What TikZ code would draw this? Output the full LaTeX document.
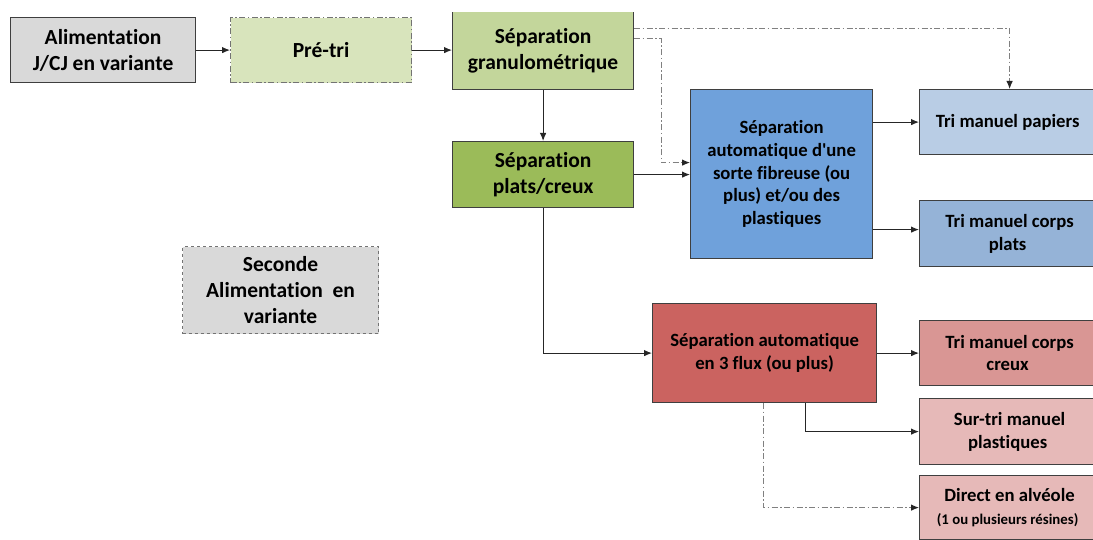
\documentclass[tikz,border=0pt]{standalone}
\usepackage{fontspec}
\setmainfont{Carlito}[Ligatures={TeX,NoCommon}]
\usepackage{tikz}
\usetikzlibrary{positioning}
\usetikzlibrary{arrows.meta}

\definecolor{gris}{HTML}{D9D9D9}
\definecolor{vertpale}{HTML}{D8E4BC}
\definecolor{vertclair}{HTML}{C3D69B}
\definecolor{vert}{HTML}{9BBB59}
\definecolor{bleu}{HTML}{6FA1DB}
\definecolor{bleupale}{HTML}{B9CDE5}
\definecolor{bleuclair}{HTML}{95B3D7}
\definecolor{rouge}{HTML}{CB6360}
\definecolor{rougeclair}{HTML}{D99694}
\definecolor{rougepale}{HTML}{E6B9B8}
\definecolor{trait}{HTML}{3F3F3F}

\tikzset{
  etape/.style={draw=trait, line width=1.2pt, align=center, inner sep=2pt, anchor=north west},
  grand/.style={font=\bfseries\fontsize{21.5}{26.2}\selectfont},
  moyen/.style={font=\bfseries\fontsize{18.7}{22.8}\selectfont},
  fleche/.style={-{Latex[length=8pt,width=6.5pt]}, line width=1pt, draw=black!85},
  variante/.style={-{Latex[length=8pt,width=6.5pt,color=black!85]}, line width=1pt, draw=black!50,
                   dash pattern=on 6pt off 2.5pt on 1.5pt off 2.5pt},
}

\begin{document}
\begin{tikzpicture}[x=1pt, y=-1pt]
  \fill[white] (0,0) rectangle (1093,540);
  \useasboundingbox (0,0) rectangle (1093,540);
  \clip (0,12.4) rectangle (1093,540);

  \node[etape, grand, fill=gris, minimum width=185pt, minimum height=65pt] (alim) at (10,17) {Alimentation\\J/CJ en variante};
  \node[etape, grand, fill=vertpale, draw=black!55, dash pattern=on 6pt off 2.5pt on 1.5pt off 2.5pt,
        minimum width=181pt, minimum height=65pt] (pretri) at (230,17) {Pré-tri};
  \node[etape, grand, fill=vertclair, minimum width=181pt, minimum height=78pt] (gran) at (452,11) {Séparation\\granulométrique};
  \node[etape, grand, fill=vert, minimum width=181pt, minimum height=66pt] (plats) at (452,141) {Séparation\\plats/creux};

  \node[etape, grand, fill=gris, draw=black!55, dashed, minimum width=196pt, minimum height=87pt] (seconde) at (182,246) {Seconde\\Alimentation~ en\\variante};

  \node[etape, moyen, fill=bleu, minimum width=182pt, minimum height=169pt] (auto) at (690,89)
    {Séparation\\automatique d\textquotesingle une\\sorte fibreuse (ou\\plus) et/ou des\\plastiques};
  \node[etape, moyen, fill=bleupale, minimum width=180pt, minimum height=65pt] (papiers) at (919,89) {Tri manuel papiers\hspace*{4pt}};
  \node[etape, moyen, fill=bleuclair, minimum width=180pt, minimum height=66pt] (corpsplats) at (919,200) {Tri manuel corps\\plats\hspace*{4pt}};

  \node[etape, moyen, fill=rouge, minimum width=224pt, minimum height=99pt] (tri3) at (652,303) {Séparation automatique\\en 3 flux (ou plus)};
  \node[etape, moyen, fill=rougeclair, minimum width=180pt, minimum height=65pt] (creux) at (919,320) {Tri manuel corps\\creux\hspace*{4pt}};
  \node[etape, moyen, fill=rougepale, minimum width=180pt, minimum height=66pt] (surtri) at (919,398) {Sur-tri manuel\\plastiques\hspace*{4pt}};
  \node[etape, moyen, fill=rougepale, minimum width=180pt, minimum height=64pt] (direct) at (919,475)
    {Direct en alvéole\\{\fontsize{14.8}{18}\selectfont(1 ou plusieurs résines)}\hspace*{4pt}};

  % flux principal
  \draw[fleche] (alim) -- (pretri);
  \draw[fleche] (pretri.east) -- (pretri.east -| gran.west);
  \draw[fleche] (gran.south) -- (plats.north);
  \draw[fleche] (plats.east) -- (plats.east -| auto.west);
  \draw[fleche] (auto.east |- papiers.west) -- (papiers.west);
  \draw[fleche] ([yshift=4pt]auto.east |- corpsplats.west) -- ([yshift=4pt]corpsplats.west);
  \draw[fleche] (plats.south) |- (tri3.west);
  \draw[fleche] (tri3.east) -- (creux.west);
  \draw[fleche] ([xshift=41pt]tri3.south) |- (surtri.west);

  % variantes
  \draw[variante] ([yshift=22pt]gran.east) -| (papiers.north);
  \draw[variante] ([yshift=12pt]gran.east) -| ([xshift=-29pt, yshift=11.5pt]auto.west) -- ([yshift=11.5pt]auto.west);
  \draw[variante] ([xshift=-1pt]tri3.south) |- (direct.west);
\end{tikzpicture}
\end{document}
